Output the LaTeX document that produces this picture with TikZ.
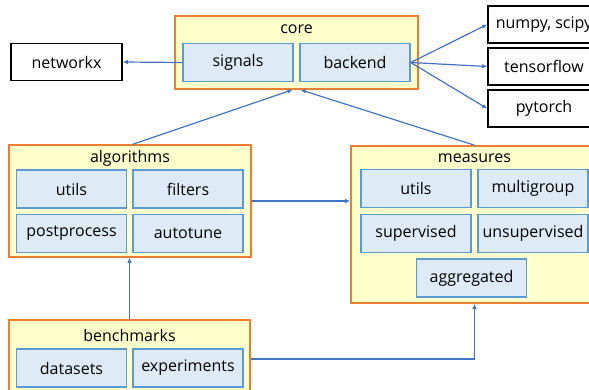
\documentclass[tikz,border=0pt]{standalone}
\usepackage{fontspec}
\setmainfont{Open Sans}
\usetikzlibrary{positioning}
\usetikzlibrary{arrows.meta}
\definecolor{grporange}{HTML}{ED7D31}
\definecolor{grpyellow}{HTML}{FFFFCC}
\definecolor{modfill}{HTML}{DEEBF7}
\definecolor{modline}{HTML}{5B9BD5}
\definecolor{linkblue}{HTML}{4472C4}
\tikzset{
    group/.style = {rectangle, line width=1.6pt, draw=grporange, fill=grpyellow, inner sep=0pt},
    grouptitle/.style = {inner sep=0pt, font=\fontsize{16}{18}\selectfont},
    module/.style = {rectangle, line width=1.4pt, draw=modline, fill=modfill, minimum width=110pt, minimum height=38pt, inner sep=0pt, font=\fontsize{16}{18}\selectfont},
    extlib/.style = {rectangle, line width=1.6pt, draw=black, fill=white, minimum width=111pt, minimum height=37pt, inner sep=0pt, font=\fontsize{16}{18}\selectfont},
    link/.style = {-{Latex[length=5pt,width=4.5pt]}, line width=1.2pt, linkblue}
}
\begin{document}
\begin{tikzpicture}[x=1pt,y=-1pt]
\useasboundingbox (0,0) rectangle (589,389);
%
\node[group, minimum width=243pt, minimum height=73pt] at (296.5,52.5) (core) {};
\node[grouptitle] at (296.5,29) (coret) {core};
\node[module] at (238,62.5) (signals) {signals};
\node[module] at (355,62.5) (backend) {backend};
%
\node[extlib] at (66.5,62) (networkx) {networkx};
\node[extlib, minimum width=112pt] at (544,24.5) (numpy) {numpy, scipy};
\node[extlib, minimum width=112pt] at (544,66.5) (tensorflow) {tensorflow};
\node[extlib, minimum width=112pt] at (544,108.5) (pytorch) {pytorch};
%
\node[group, minimum width=242pt, minimum height=112pt] at (130,201) (algorithms) {};
\node[grouptitle] at (130,158) (algot) {algorithms};
\node[module] at (71.5,189) (autils) {utils};
\node[module] at (188,189) (filters) {filters};
\node[module] at (71.5,233.5) (postprocess) {postprocess};
\node[module] at (188,233.5) (autotune) {autotune};
%
\node[group, minimum width=247pt, minimum height=157pt] at (474.5,224.5) (measures) {};
\node[grouptitle] at (474.5,158) (meast) {measures};
\node[module] at (416,188.5) (mutils) {utils};
\node[module] at (533,188.5) (multigroup) {multigroup};
\node[module] at (416,233.5) (supervised) {supervised};
\node[module] at (533,233.5) (unsupervised) {unsupervised};
\node[module] at (471.5,278) (aggregated) {aggregated};
%
\node[group, minimum width=241pt, minimum height=76pt] at (129.5,358) (benchmarks) {};
\node[grouptitle] at (129.5,335) (bencht) {benchmarks};
\node[module] at (71.5,368) (datasets) {datasets};
\node[module] at (188,368) (experiments) {experiments};
%
\draw[link] (signals.west) -- (networkx.east);
\draw[link] (backend.east) -- (numpy.west);
\draw[link] (backend.east) -- (tensorflow.west);
\draw[link] (backend.east) -- (pytorch.west);
\draw[link] ([xshift=3pt]algorithms.north) -- ([xshift=-4pt]core.south);
\draw[link] (measures.north) -- ([xshift=4pt]core.south);
\draw[link] (algorithms.east) -- (algorithms.east -| measures.west);
\draw[link] (benchmarks.north) -- (benchmarks.north |- algorithms.south);
\draw[link] ([yshift=-1pt]benchmarks.east) -| (measures.south);
\end{tikzpicture}
\end{document}
